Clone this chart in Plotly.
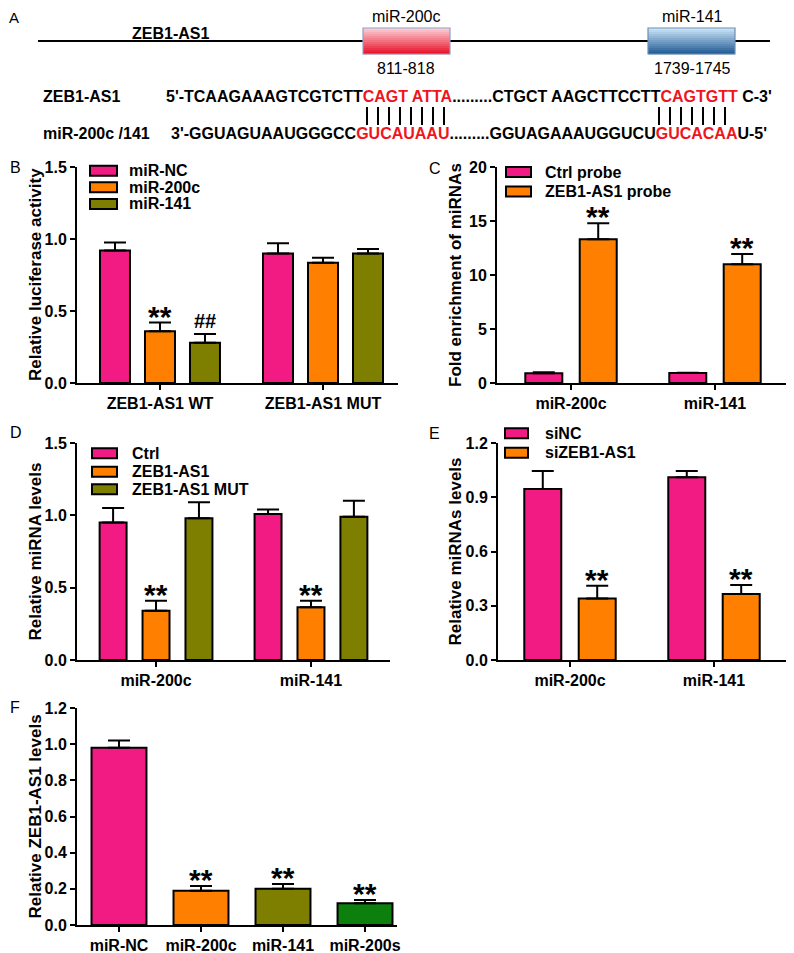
import plotly.graph_objects as go

# The page body adds an 8px offset, so the figure is drawn 8px smaller and
# every reference pixel position is shifted by that offset.
OFF = 8
W, H = 794 - OFF, 953 - OFF
def fx(p): return (p - OFF) / W
def fy(p): return 1 - (p - OFF) / H

PINK = "#F21B83"
ORANGE = "#FF8000"
OLIVE = "#7E7E00"
GREEN = "#0C7F0C"
FONT = "Liberation Sans, Arial, sans-serif"

# ---------------- data ----------------
b_categories = ["ZEB1-AS1 WT", "ZEB1-AS1 MUT"]
b_labels = ["miR-NC", "miR-200c", "miR-141"]
b_mir_nc = [0.92, 0.90]
b_mir_nc_err = [0.055, 0.07]
b_mir_200c = [0.36, 0.835]
b_mir_200c_err = [0.06, 0.035]
b_mir_141 = [0.28, 0.90]
b_mir_141_err = [0.06, 0.03]
b_marks_200c = ["**", ""]
b_marks_141 = ["##", ""]

c_categories = ["miR-200c", "miR-141"]
c_labels = ["Ctrl probe", "ZEB1-AS1 probe"]
c_ctrl = [0.9, 0.92]
c_ctrl_err = [0.1, 0.04]
c_probe = [13.3, 11.0]
c_probe_err = [1.5, 0.95]
c_marks = ["**", "**"]

d_categories = ["miR-200c", "miR-141"]
d_labels = ["Ctrl", "ZEB1-AS1", "ZEB1-AS1 MUT"]
d_ctrl = [0.95, 1.01]
d_ctrl_err = [0.10, 0.03]
d_zeb = [0.34, 0.365]
d_zeb_err = [0.07, 0.045]
d_mut = [0.98, 0.99]
d_mut_err = [0.11, 0.11]
d_marks = ["**", "**"]

e_categories = ["miR-200c", "miR-141"]
e_labels = ["siNC", "siZEB1-AS1"]
e_sinc = [0.945, 1.01]
e_sinc_err = [0.10, 0.035]
e_si = [0.34, 0.365]
e_si_err = [0.07, 0.05]
e_marks = ["**", "**"]

f_categories = ["miR-NC", "miR-200c", "miR-141", "miR-200s"]
f_values = [0.98, 0.19, 0.20, 0.12]
f_err = [0.04, 0.025, 0.027, 0.018]
f_marks = ["", "**", "**", "**"]
f_colors = [PINK, ORANGE, OLIVE, GREEN]

# ---------------- panels ----------------
panels = [
    dict(letter=("B", 8, 167), xd=(77, 398), yd=(167, 383), xr=(-0.509, 1.460), yr=(0, 1.5), dtick=0.5, fmt=".1f",
         cats=b_categories, width=0.184,
         series=[(b_mir_nc, b_mir_nc_err, PINK, -0.276, None),
                 (b_mir_200c, b_mir_200c_err, ORANGE, 0.0, b_marks_200c),
                 (b_mir_141, b_mir_141_err, OLIVE, 0.276, b_marks_141)],
         title="Relative luciferase activity", tx=35,
         legend=(b_labels, [PINK, ORANGE, OLIVE], 90, 117, [170.7, 187.3, 204], 127)),
    dict(letter=("C", 427, 168), xd=(497, 789), yd=(167, 383), xr=(-0.514, 1.514), yr=(0, 20), dtick=5, fmt="d",
         cats=c_categories, width=0.257,
         series=[(c_ctrl, c_ctrl_err, PINK, -0.189, None),
                 (c_probe, c_probe_err, ORANGE, 0.189, c_marks)],
         title="Fold enrichment of miRNAs", tx=455,
         legend=(c_labels, [PINK, ORANGE], 506, 531, [172.0, 191.5], 543)),
    dict(letter=("D", 8, 432), xd=(77, 390), yd=(443, 660), xr=(-0.51, 1.51), yr=(0, 1.5), dtick=0.5, fmt=".1f",
         cats=d_categories, width=0.174,
         series=[(d_ctrl, d_ctrl_err, PINK, -0.277, None),
                 (d_zeb, d_zeb_err, ORANGE, 0.0, d_marks),
                 (d_mut, d_mut_err, OLIVE, 0.277, None)],
         title="Relative miRNA levels", tx=35,
         legend=(d_labels, [PINK, ORANGE, OLIVE], 92, 117, [453.3, 471.7, 489.3], 130)),
    dict(letter=("E", 427, 433), xd=(498, 788), yd=(443, 660), xr=(-0.5, 1.514), yr=(0, 1.2), dtick=0.3, fmt=".1f",
         cats=e_categories, width=0.257,
         series=[(e_sinc, e_sinc_err, PINK, -0.189, None),
                 (e_si, e_si_err, ORANGE, 0.189, e_marks)],
         title="Relative miRNAs levels", tx=455,
         legend=(e_labels, [PINK, ORANGE], 505, 528, [433.3, 452.7], 543)),
    dict(letter=("F", 8, 707), xd=(77, 397), yd=(708, 925), xr=(-0.512, 3.39), yr=(0, 1.2), dtick=0.2, fmt=".1f",
         cats=f_categories, width=0.67,
         series=[(f_values, f_err, f_colors, 0.0, f_marks)],
         title="Relative ZEB1-AS1 levels", tx=35,
         legend=None),
]

fig = go.Figure()
annotations = []
shapes = []
layout = {}

for k, p in enumerate(panels, start=1):
    sfx = "" if k == 1 else str(k)
    xa, ya = "x" + sfx, "y" + sfx
    layout["xaxis" + sfx] = dict(
        domain=[fx(p["xd"][0]), fx(p["xd"][1])], range=list(p["xr"]), anchor=ya, automargin=False,
        type="category", categoryorder="array", categoryarray=p["cats"],
        showline=True, linecolor="black", linewidth=2, ticks="outside", ticklen=5, tickwidth=2,
        tickcolor="black", showgrid=False, zeroline=False, fixedrange=True,
        tickfont=dict(family=FONT, size=16, color="black", weight="bold"))
    layout["yaxis" + sfx] = dict(
        domain=[fy(p["yd"][1]), fy(p["yd"][0])], range=list(p["yr"]), anchor=xa, automargin=False,
        dtick=p["dtick"], tick0=0, tickformat=p["fmt"],
        showline=True, linecolor="black", linewidth=2, ticks="outside", ticklen=5, tickwidth=2,
        tickcolor="black", showgrid=False, zeroline=False, fixedrange=True,
        tickfont=dict(family=FONT, size=16, color="black", weight="bold"))
    for vals, errs, color, center, marks in p["series"]:
        fig.add_trace(go.Bar(
            x=p["cats"], y=vals, width=p["width"], offset=center - p["width"] / 2,
            marker=dict(color=color, line=dict(color="black", width=2)),
            error_y=dict(type="data", array=errs, arrayminus=[0] * len(vals), symmetric=False,
                         color="black", thickness=2, width=11),
            xaxis=xa, yaxis=ya, showlegend=False, hoverinfo="skip"))
        if marks:
            for i, m in enumerate(marks):
                if m:
                    annotations.append(dict(
                        x=i + center, y=vals[i] + errs[i], xref=xa, yref=ya, text=m,
                        showarrow=False, yanchor="bottom", yshift=-12 if m == "**" else 0,
                        font=dict(family=FONT, size=30 if m == "**" else 20, color="black",
                                  weight="bold")))
    # axis title
    annotations.append(dict(
        x=fx(p["tx"]), y=fy((p["yd"][0] + p["yd"][1]) / 2), xref="paper", yref="paper",
        text=p["title"], textangle=-90, showarrow=False, xanchor="center", yanchor="middle",
        font=dict(family=FONT, size=17, color="black", weight="bold")))
    # panel letter
    L, lx, ly = p["letter"]
    annotations.append(dict(x=fx(lx), y=fy(ly), xref="paper", yref="paper", text=L,
                            showarrow=False, xanchor="left", yanchor="middle",
                            font=dict(family=FONT, size=16, color="black")))
    # legend
    if p["legend"]:
        labels, colors, x0, x1, ycs, tx = p["legend"]
        for lab, col, yc in zip(labels, colors, ycs):
            shapes.append(dict(type="rect", xref="paper", yref="paper",
                               x0=fx(x0), x1=fx(x1), y0=fy(yc + 5), y1=fy(yc - 5),
                               fillcolor=col, line=dict(color="black", width=2)))
            annotations.append(dict(x=fx(tx), y=fy(yc), xref="paper", yref="paper", text=lab,
                                    showarrow=False, xanchor="left", yanchor="middle",
                                    font=dict(family=FONT, size=16, color="black", weight="bold")))

# ---------------- panel A (schematic) ----------------
annotations.append(dict(x=fx(8), y=1, xref="paper", yref="paper", text="A", showarrow=False,
                        xanchor="left", yanchor="top", borderpad=0,
                        font=dict(family=FONT, size=15, color="black")))
shapes.append(dict(type="line", xref="paper", yref="paper", x0=fx(38), x1=fx(770), y0=fy(41), y1=fy(41),
                   line=dict(color="black", width=2)))

def grad_box(x0, x1, y0, y1, top, bot, border, n=13):
    h = (y1 - y0) / n
    for i in range(n):
        t = i / (n - 1)
        c = tuple(int(round(top[j] + (bot[j] - top[j]) * t)) for j in range(3))
        shapes.append(dict(type="rect", xref="paper", yref="paper", x0=fx(x0), x1=fx(x1),
                           y0=fy(y0 + (i + 1) * h + 0.3), y1=fy(y0 + i * h),
                           fillcolor="rgb(%d,%d,%d)" % c, line=dict(width=0)))
    shapes.append(dict(type="rect", xref="paper", yref="paper", x0=fx(x0), x1=fx(x1),
                       y0=fy(y1), y1=fy(y0), fillcolor="rgba(0,0,0,0)", line=dict(color=border, width=1.2)))

grad_box(363, 450, 28, 54, (250, 205, 212), (232, 22, 45), "#8EA2C6")
grad_box(648, 735, 28, 54, (200, 226, 246), (38, 94, 150), "#6E8DB3")

def txt(x, y, s, size=15, bold=False, anchor="center", color="black"):
    annotations.append(dict(x=fx(x), y=fy(y), xref="paper", yref="paper", text=s, showarrow=False,
                            xanchor=anchor, yanchor="middle",
                            font=dict(family=FONT, size=size, color=color,
                                      weight="bold" if bold else "normal")))

txt(406, 16, "miR-200c", 16)
txt(692, 16, "miR-141", 16)
txt(406, 68, "811-818", 16)
txt(692, 68, "1739-1745", 16)
txt(170, 33, "ZEB1-AS1", 16, True)

RED = "#F0141E"
seq1 = ("5'-TCAAGAAAGTCGTCTT<span style='color:%s'>CAGT ATTA</span>.........CTGCT AAGCTTCCTT"
        "<span style='color:%s'>CAGTGTT</span> C-3'") % (RED, RED)
seq2 = ("3'-GGUAGUAAUGGGCC<span style='color:%s'>GUCAUAAU</span>.........GGUAGAAAUGGUCU"
        "<span style='color:%s'>GUCACAA</span>U-5'") % (RED, RED)
txt(41, 96, "ZEB1-AS1", 16, True, "left")
txt(164, 96, seq1, 16, True, "left")
txt(41, 133, "miR-200c /141", 16, True, "left")
txt(169, 133, seq2, 16, True, "left")

for i in range(8):
    xb = 367 + i * 11
    shapes.append(dict(type="line", xref="paper", yref="paper", x0=fx(xb), x1=fx(xb), y0=fy(107), y1=fy(125),
                       line=dict(color="black", width=2)))
for i in range(7):
    xb = 659 + i * 11
    shapes.append(dict(type="line", xref="paper", yref="paper", x0=fx(xb), x1=fx(xb), y0=fy(107), y1=fy(125),
                       line=dict(color="black", width=2)))

layout.update(dict(template="none", width=W, height=H, margin=dict(l=0, r=0, t=0, b=0, pad=0, autoexpand=False),
                   autosize=False, paper_bgcolor="white", plot_bgcolor="white", barmode="overlay",
                   showlegend=False, annotations=annotations, shapes=shapes,
                   font=dict(family=FONT, color="black")))
fig.update_layout(**layout)
fig.write_html("out.html")
